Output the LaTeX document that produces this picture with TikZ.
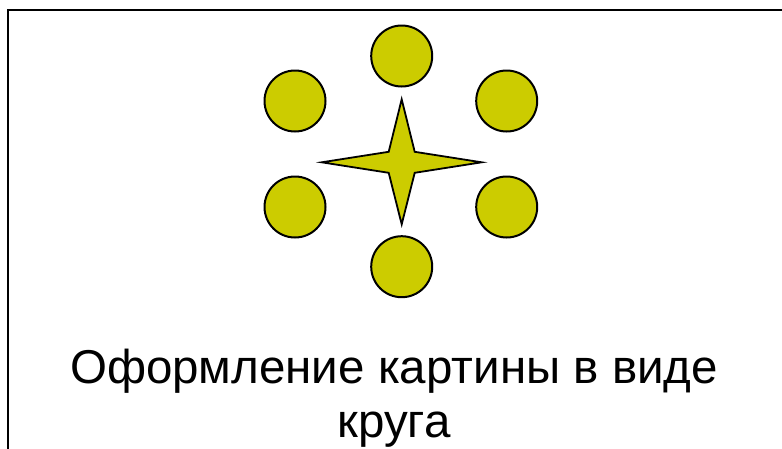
\documentclass[tikz,border=0pt]{standalone}
\usepackage{fontspec}
\setmainfont{Liberation Sans}
\usepackage{tikz}
\usetikzlibrary{calc}
\definecolor{olive}{RGB}{204,204,0}

\begin{document}
\begin{tikzpicture}[
    x=1pt,y=-1pt,
    dot/.style={circle,draw,line width=2pt,fill=olive,
      minimum size=61pt,inner sep=0pt},
    caption/.style={font=\fontsize{47.5}{54}\selectfont,anchor=base}
  ]
  \useasboundingbox (0,0) rectangle (782,448);
  \clip (0,0) rectangle (782,448);

  % frame
  \draw[line width=2.6pt] (8,470) -- (8,10) -- (800,10);

  % circles around the star
  \foreach \n/\x/\y in {c1/401.7/56, c2/506.7/101, c3/506.7/207,
                        c4/401.7/266.7, c5/295/207, c6/295/101} {
    \node[dot] (\n) at (\x,\y) {};
  }

  % star
  \coordinate (s) at (401.7,162.3);
  \draw[line width=1.8pt,fill=olive,line join=miter]
    ($(s)+(0,-63)$) -- ($(s)+(13,-10.5)$) -- ($(s)+(80,0)$)
    -- ($(s)+(13,10.5)$) -- ($(s)+(0,62)$) -- ($(s)+(-13,10.5)$)
    -- ($(s)+(-80,0)$) -- ($(s)+(-13,-10.5)$) -- cycle;

  % caption
  \node[caption] (t1) at (394,383) {Оформление картины в виде};
  \node[caption] (t2) at (394,437) {круга};
\end{tikzpicture}
\end{document}
